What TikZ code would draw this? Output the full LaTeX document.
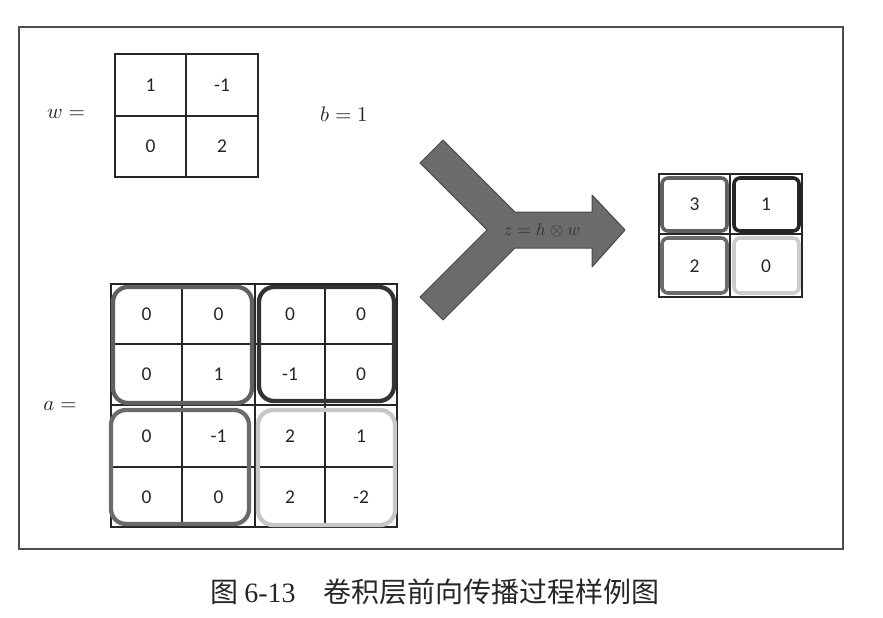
\documentclass[tikz,border=0pt]{standalone}
\usepackage{fontspec}
\setmainfont{Carlito}
\newfontfamily\cjk{Noto Sans CJK SC}
\newfontfamily\capfont{Liberation Serif}
\newcommand{\bigmath}[2][2.1]{\scalebox{#1}{$#2$}}
\begin{document}
\begin{tikzpicture}[x=1pt,y=-1pt,
  gridline/.style={draw=black!85,line width=1.1pt},
  cellnum/.style={font=\fontsize{19.5}{22}\selectfont,text=black!85,inner sep=0pt},
  eqlabel/.style={inner sep=0pt,text=black!85},
  blk/.style={line width=4.3pt,rounded corners=15pt},
  oblk/.style={line width=3.6pt,rounded corners=6pt},
  arrowshape/.style={fill=black!58,draw=black!72,line width=1pt,line join=round}]
\useasboundingbox (0,0) rectangle (883,618);
\fill[white] (0,0) rectangle (883,618);
% frame
\draw[black!70,line width=1.3pt] (19,27) rectangle (843,549);

% w matrix
\node[eqlabel] (wlab) at (66,114) {\bigmath{w=}};
\draw[gridline] (115,54) rectangle (258,177);
\draw[gridline] (186,54) -- (186,177);
\draw[gridline] (115,116) -- (258,116);
\node[cellnum] (w11) at (150.5,85) {1};
\node[cellnum] (w12) at (222,85) {-1};
\node[cellnum] (w21) at (150.5,146.5) {0};
\node[cellnum] (w22) at (222,146.5) {2};
\node[eqlabel] (blab) at (344,114) {\bigmath{b=1}};

% a matrix
\node[eqlabel] (alab) at (60,406) {\bigmath{a=}};
\draw[gridline] (111,284) rectangle (397,527);
\foreach \xx in {182,255,325} \draw[gridline] (\xx,284) -- (\xx,527);
\foreach \yy in {344,405,467} \draw[gridline] (111,\yy) -- (397,\yy);
% rounded groups
\draw[blk,draw=black!62] (113,287) rectangle (252,403);
\draw[blk,draw=black!80] (259,287) rectangle (394,401);
\draw[blk,draw=black!58] (111,410) rectangle (249,524);
\draw[blk,draw=black!22] (258,410) rectangle (395,525);
% values
\node[cellnum] (a11) at (146.5,314) {0};
\node[cellnum] (a12) at (218.5,314) {0};
\node[cellnum] (a13) at (290,314) {0};
\node[cellnum] (a14) at (361,314) {0};
\node[cellnum] (a21) at (146.5,374.5) {0};
\node[cellnum] (a22) at (218.5,374.5) {1};
\node[cellnum] (a23) at (290,374.5) {-1};
\node[cellnum] (a24) at (361,374.5) {0};
\node[cellnum] (a31) at (146.5,436) {0};
\node[cellnum] (a32) at (218.5,436) {-1};
\node[cellnum] (a33) at (290,436) {2};
\node[cellnum] (a34) at (361,436) {1};
\node[cellnum] (a41) at (146.5,497) {0};
\node[cellnum] (a42) at (218.5,497) {0};
\node[cellnum] (a43) at (290,497) {2};
\node[cellnum] (a44) at (361,497) {-2};

% arrow
\draw[arrowshape] (443,140) -- (515,212) -- (592,212) -- (592,195) -- (625,230)
  -- (592,267) -- (592,248) -- (515,248) -- (443,320) -- (420,297) -- (487,230)
  -- (420,163) -- cycle;
\node[text=black!80,inner sep=0pt] (op) at (542,230) {\bigmath[1.75]{z=h\otimes w}};

% output matrix
\draw[gridline] (659,174) rectangle (802,297);
\draw[gridline] (730,174) -- (730,297);
\draw[gridline] (659,234) -- (802,234);
\draw[oblk,draw=black!62] (662,178) rectangle (727,231);
\draw[oblk,draw=black!85] (734,178) rectangle (799,231);
\draw[oblk,draw=black!58] (662,238) rectangle (727,293);
\draw[oblk,draw=black!20] (734,238) rectangle (799,293);
\node[cellnum] (z11) at (694.5,204) {3};
\node[cellnum] (z12) at (766,204) {1};
\node[cellnum] (z21) at (694.5,266) {2};
\node[cellnum] (z22) at (766,266) {0};

% caption
\node[inner sep=0pt,text=black!85] (cap) at (435,592)
  {{\cjk\fontsize{28}{30}\selectfont 图}\hspace{6pt}{\capfont\fontsize{28}{30}\selectfont 6-13}\hspace{28pt}{\cjk\fontsize{28}{30}\selectfont 卷积层前向传播过程样例图}};
\end{tikzpicture}
\end{document}
